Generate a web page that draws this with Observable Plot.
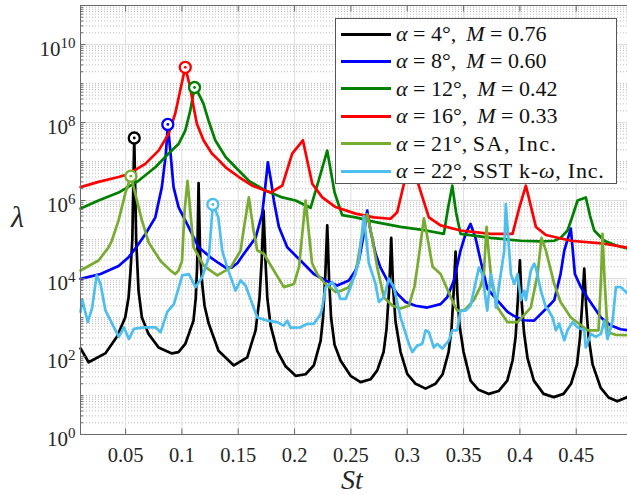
<!DOCTYPE html>
<html><head><meta charset="utf-8">
<script src="https://cdn.jsdelivr.net/npm/d3@7"></script>
<script src="https://cdn.jsdelivr.net/npm/@observablehq/plot@0.6"></script>
<style>
body{margin:0;background:#fff;}
#wrap{position:relative;width:627px;height:495px;font-family:"Liberation Serif","DejaVu Serif",serif;color:#262626;overflow:hidden;}
#wrap svg text{font-family:"Liberation Serif","DejaVu Serif",serif;}
#legend{position:absolute;left:335px;top:18px;width:282px;height:166px;background:#fff;border:1px solid #555;box-sizing:border-box;}
.row{position:absolute;left:5px;height:27px;display:flex;align-items:center;font-size:22px;white-space:nowrap;color:#111;font-family:"Liberation Serif","DejaVu Serif",serif;}
.sw{width:50px;height:3px;margin-right:5px;flex:none;}
#ylab{position:absolute;left:11px;top:202px;font-size:30px;line-height:30px;font-style:italic;font-family:"Liberation Serif","DejaVu Serif",serif;}
#xlab{position:absolute;left:341px;top:467px;font-size:28px;line-height:25px;font-style:italic;font-family:"Liberation Serif","DejaVu Serif",serif;}
</style></head>
<body><div id="wrap"></div>
<script>
// ---- data: [St, lambda] ----
const blackData = [[0.0101,160],[0.0172,71],[0.032,120],[0.0423,320],[0.0497,1000],[0.0527,3300],[0.0544,16000],[0.056,1e5],[0.0577,4e7],[0.0594,1e5],[0.0615,4900],[0.0645,1000],[0.0704,380],[0.0793,170],[0.0911,120],[0.097,130],[0.103,210],[0.1103,830],[0.1123,3200],[0.1135,2e4],[0.1148,2.8e6],[0.1162,4e4],[0.1179,7900],[0.1201,2000],[0.1237,710],[0.1325,140],[0.1461,59],[0.158,95],[0.1654,470],[0.1689,3200],[0.1709,3.2e4],[0.1725,5.5e5],[0.1741,3.2e4],[0.1758,3200],[0.1787,630],[0.1846,140],[0.192,56],[0.2009,32],[0.2098,35],[0.2171,59],[0.2231,250],[0.2253,1000],[0.2273,1.3e4],[0.229,2.3e5],[0.2306,1e4],[0.2324,1000],[0.2355,200],[0.2408,79],[0.2497,32],[0.2586,22],[0.2674,26],[0.2734,44],[0.279,130],[0.2816,500],[0.2841,6300],[0.2858,1.1e5],[0.2874,6300],[0.2896,790],[0.2941,130],[0.3,36],[0.3074,20],[0.3163,15],[0.3251,20],[0.3314,35],[0.3367,130],[0.3393,500],[0.3413,5000],[0.3429,4.9e4],[0.3445,4000],[0.3464,630],[0.35,130],[0.3562,24],[0.3633,14],[0.3725,11],[0.3811,13],[0.3888,24],[0.3935,79],[0.3962,320],[0.3983,3200],[0.4,2.9e4],[0.4016,2500],[0.4037,400],[0.4068,89],[0.4124,24],[0.421,11],[0.4301,9.1],[0.4387,11],[0.4454,20],[0.4507,63],[0.4534,320],[0.4554,2500],[0.4571,1.8e4],[0.4588,2000],[0.4609,320],[0.4645,63],[0.4716,16],[0.4787,8.9],[0.4864,7.1],[0.4955,9.1]];

const blueData = [[0.0101,9800],[0.0278,1.3e4],[0.0438,2.1e4],[0.0527,3.5e4],[0.0589,6e4],[0.0678,1.4e5],[0.0764,3.7e5],[0.0822,2.2e6],[0.0858,1.6e7],[0.0875,8.9e7],[0.0897,1.9e7],[0.0926,2.2e6],[0.097,6.8e5],[0.1059,2.1e5],[0.1148,6.3e4],[0.1254,3.5e4],[0.1325,2.5e4],[0.1388,1.9e4],[0.1441,1.9e4],[0.1494,2.5e4],[0.1547,4.2e4],[0.1592,6.3e4],[0.1654,1.1e5],[0.1713,4.6e5],[0.1738,2e6],[0.1763,9.5e6],[0.1791,3.2e6],[0.1816,1e6],[0.1861,2.1e5],[0.1935,6.3e4],[0.2068,2.6e4],[0.2171,1.3e4],[0.2275,8900],[0.2379,6600],[0.2482,8900],[0.2541,1.6e4],[0.2571,2.9e4],[0.2615,1.4e5],[0.2645,5.5e5],[0.2674,1.7e5],[0.2719,4.3e4],[0.2763,1.9e4],[0.2823,8900],[0.2911,4100],[0.2985,2500],[0.3074,2000],[0.3178,1800],[0.3296,2200],[0.3355,3300],[0.3414,8900],[0.3473,5.2e4],[0.3518,1.4e5],[0.3562,2.5e5],[0.3606,1.1e5],[0.3651,2.9e4],[0.371,5600],[0.3769,3500],[0.389,1400],[0.3946,1100],[0.4032,850],[0.4126,830],[0.4243,1800],[0.4305,2800],[0.4361,1.3e4],[0.4394,5.2e4],[0.4423,1e5],[0.4452,1.9e5],[0.4488,1.3e4],[0.4541,6000],[0.46,3200],[0.4719,1000],[0.4808,620],[0.4894,500],[0.4955,470]];

const greenData = [[0.0101,6.2e5],[0.026,1e6],[0.0438,1.6e6],[0.0615,3.2e6],[0.0764,7.1e6],[0.0882,1.6e7],[0.097,2.8e7],[0.103,6.2e7],[0.1074,2e8],[0.1112,7.9e8],[0.1148,5.5e8],[0.1192,3e8],[0.1237,1.1e8],[0.1296,3.5e7],[0.1388,1.3e7],[0.1476,7.1e6],[0.1594,3.2e6],[0.1743,1.8e6],[0.1891,1.2e6],[0.2009,1e6],[0.2142,6.5e5],[0.2213,3.2e6],[0.229,1.9e7],[0.2355,1.6e6],[0.2423,4.2e5],[0.2541,3.7e5],[0.2719,2.8e5],[0.2941,2.1e5],[0.3118,1.8e5],[0.3325,1.4e5],[0.3362,6.3e5],[0.34,2.4e6],[0.3433,5e5],[0.3473,1.4e5],[0.374,1.1e5],[0.4006,9.3e4],[0.4183,8.9e4],[0.4305,9.3e4],[0.4361,1.1e5],[0.4423,1.7e5],[0.4467,4e5],[0.4512,1e6],[0.4585,1.2e6],[0.4623,4e5],[0.466,1.7e5],[0.4749,9.3e4],[0.4849,7.1e4],[0.4955,5.9e4]];

const redData = [[0.0101,2.2e6],[0.026,3e6],[0.0438,4e6],[0.0527,4.8e6],[0.0675,8.7e6],[0.0793,1.9e7],[0.0882,5.1e7],[0.0941,1.7e8],[0.0985,6.6e8],[0.103,2.6e9],[0.1074,7.9e8],[0.1104,2.5e8],[0.1133,9.3e7],[0.1192,3.5e7],[0.1266,1.6e7],[0.1325,1.1e7],[0.1388,7.1e6],[0.1506,4e6],[0.1624,2.4e6],[0.1787,1.6e6],[0.1891,2.4e6],[0.1979,1.6e7],[0.2074,3.5e7],[0.2157,2.7e6],[0.2246,1.2e6],[0.2364,6.8e5],[0.2541,4.6e5],[0.2704,3.7e5],[0.2852,3.4e5],[0.2911,5e5],[0.2985,4e6],[0.3038,1.6e7],[0.3089,3.2e6],[0.3192,3.7e5],[0.3296,2.3e5],[0.3473,1.7e5],[0.374,1.4e5],[0.3935,1.4e5],[0.3993,6.3e5],[0.4053,2.4e6],[0.4142,2.1e5],[0.4231,1.3e5],[0.4452,9.3e4],[0.4749,7.8e4],[0.4955,6.2e4]];

const saData = [[0.0101,1.6e4],[0.026,2.9e4],[0.0349,6.3e4],[0.0378,9.3e4],[0.0438,3.1e5],[0.0497,1.5e6],[0.0547,4.2e6],[0.0586,1.5e6],[0.0645,3.1e5],[0.0704,8.5e4],[0.0811,2.8e4],[0.0899,1.6e4],[0.0941,1.3e4],[0.097,1.6e4],[0.1001,2.8e4],[0.1024,5.5e5],[0.105,3.2e6],[0.1074,5.5e5],[0.1104,6.3e4],[0.1195,2.1e4],[0.1314,1.2e4],[0.1432,1.9e4],[0.1521,5.2e4],[0.1547,1.7e5],[0.1594,1.2e6],[0.1636,1.7e5],[0.1669,5.2e4],[0.1727,4.3e4],[0.1816,1.6e4],[0.1905,6000],[0.1994,7200],[0.204,2e4],[0.2067,1.3e5],[0.2098,1e6],[0.2129,1.3e5],[0.2155,2.5e4],[0.2201,1.3e4],[0.2275,7200],[0.2364,4500],[0.2408,4800],[0.2482,6000],[0.2541,1.3e4],[0.2586,7.9e4],[0.2645,4.5e5],[0.2689,1.1e5],[0.2734,1.9e4],[0.2793,3300],[0.287,2000],[0.2941,1700],[0.3014,2000],[0.3065,6300],[0.31,3.2e4],[0.3148,3.5e5],[0.3189,7.9e4],[0.3225,2e4],[0.3296,1.3e4],[0.3414,2200],[0.3444,1500],[0.3503,1500],[0.3591,2800],[0.3651,6300],[0.368,1.3e4],[0.3704,2.1e5],[0.3722,5e4],[0.3749,7900],[0.3802,1800],[0.389,760],[0.398,760],[0.4097,1800],[0.4157,1.3e4],[0.4192,1.1e5],[0.4231,5.2e4],[0.4305,7200],[0.4361,2500],[0.4452,1000],[0.46,470],[0.4698,470],[0.472,1e4],[0.4733,1.4e5],[0.4751,1e4],[0.4778,420],[0.4849,360],[0.4955,350]];

const sstData = [[0.0101,1400],[0.0116,2800],[0.0165,760],[0.0204,1800],[0.0243,1.2e4],[0.0278,7200],[0.0322,1500],[0.0367,830],[0.044,320],[0.0485,560],[0.0529,280],[0.0574,510],[0.0662,560],[0.0766,560],[0.0811,420],[0.087,1400],[0.0929,2200],[0.0973,6000],[0.1003,1.2e4],[0.1062,1.3e4],[0.1121,6000],[0.1181,1.1e4],[0.1239,3.5e4],[0.1275,7.9e5],[0.1323,3.7e5],[0.1358,5.2e4],[0.1403,1.9e4],[0.1476,4900],[0.1521,8900],[0.1565,6600],[0.1669,1000],[0.1758,830],[0.1846,760],[0.1905,620],[0.1935,830],[0.1964,550],[0.2053,560],[0.2113,690],[0.2171,690],[0.2231,1200],[0.2246,1800],[0.2275,6000],[0.2334,8100],[0.2379,4900],[0.2408,3000],[0.2453,3000],[0.2497,6000],[0.2556,1.9e4],[0.2571,2.9e4],[0.2615,4e5],[0.2659,2.5e4],[0.2719,7200],[0.2748,2500],[0.2793,3300],[0.2837,1e4],[0.2881,6000],[0.2941,1000],[0.3015,210],[0.3045,130],[0.3089,190],[0.3133,210],[0.3163,470],[0.3192,420],[0.3236,170],[0.3266,210],[0.3311,160],[0.337,260],[0.34,470],[0.3444,470],[0.3473,1500],[0.3518,1500],[0.3562,2000],[0.3636,1.9e4],[0.3666,1.3e4],[0.371,1500],[0.3742,1.3e4],[0.3772,4900],[0.3787,1800],[0.3817,7200],[0.3861,5.2e4],[0.3875,8.1e5],[0.3905,5.2e4],[0.392,1.3e4],[0.395,7200],[0.398,1.3e4],[0.4009,2800],[0.4039,4900],[0.4053,2800],[0.4097,1.6e4],[0.4127,2.4e4],[0.4142,1.9e4],[0.4186,4900],[0.4231,1800],[0.4245,1700],[0.429,1000],[0.4319,470],[0.4349,690],[0.4394,260],[0.4423,470],[0.4467,760],[0.4512,560],[0.4571,470],[0.4585,170],[0.463,380],[0.4674,320],[0.4719,380],[0.4749,830],[0.4778,280],[0.4823,830],[0.4852,6000],[0.4896,6000],[0.4955,4100]];

const seriesColors = ["#000000","#0000FF","#008000","#FF0000","#77AC30","#4DBEEE"];
const legendLabels = [
  "<i>α</i> = 4°,&thinsp; <i>M</i> = 0.76",
  "<i>α</i> = 8°,&thinsp; <i>M</i> = 0.60",
  "<i>α</i> = 12°,&thinsp; <i>M</i> = 0.42",
  "<i>α</i> = 16°,&thinsp; <i>M</i> = 0.33",
  "<i>α</i> = 21°, <span style='letter-spacing:1.5px'>SA, Inc.</span>",
  "<i>α</i> = 22°, <span style='letter-spacing:0.8px'>SST k-<i>ω</i>, Inc.</span>"
];
const peakSt = [0.0577,0.0875,0.1112,0.103,0.0547,0.1275];
const peakLambda = [4e7,8.9e7,7.9e8,2.6e9,4.2e6,7.9e5];

const xTicks = [0.05,0.1,0.15,0.2,0.25,0.3,0.35,0.4,0.45];
const xTickLabels = ["0.05","0.1","0.15","0.2","0.25","0.3","0.35","0.4","0.45"];
const yMajor = [1,1e2,1e4,1e6,1e8,1e10];
const yMajorExp = ["0","2","4","6","8","10"];

// minor log ticks (2..9 x 10^k and odd decades)
const yMinor = [];
for (let k = 0; k <= 10; k++) {
  for (let m = 2; m <= 9; m++) yMinor.push(m * Math.pow(10, k));
  if (k % 2 === 1) yMinor.push(Math.pow(10, k));
}

const allSeries = [blackData, blueData, greenData, redData, saData, sstData];
const peaks = peakSt.map((s, i) => ({st: s, lam: peakLambda[i], c: seriesColors[i]}));
const axisColor = "#6a6a6a";
const serif = "'Liberation Serif', 'DejaVu Serif', serif";

const plot = Plot.plot({
  width: 627, height: 495,
  marginLeft: 80, marginRight: 0, marginTop: 5, marginBottom: 61,
  style: {fontFamily: serif, fontSize: "20px", color: "#262626", background: "transparent"},
  x: {domain: [0.01, 0.4955], label: null},
  y: {type: "log", domain: [1, 1e11], label: null},
  marks: [
    Plot.ruleY(yMinor, {stroke: "#a8a8a8", strokeWidth: 0.8, strokeDasharray: "1,2"}),
    Plot.ruleY(yMajor, {stroke: "#dedede", strokeWidth: 1}),
    Plot.ruleX(xTicks, {stroke: "#dedede", strokeWidth: 1}),
    ...allSeries.map((d, i) => Plot.line(d, {stroke: seriesColors[i], strokeWidth: 2.7, strokeLinejoin: "round"})),
    Plot.dot(peaks, {x: "st", y: "lam", r: 5.5, stroke: "c", fill: "white", strokeWidth: 2.3}),
    Plot.dot(peaks, {x: "st", y: "lam", r: 1.4, fill: "c"}),
    Plot.ruleX([0.01], {stroke: axisColor}),
    Plot.ruleY([1, 1e11], {stroke: axisColor}),
    Plot.axisY(yMinor, {tickSize: -3, tickFormat: () => "", stroke: axisColor}),
    Plot.axisY(yMajor, {tickSize: -5.5, tickFormat: () => "", stroke: axisColor}),
    Plot.axisY(yMajor, {tickSize: 0, tickPadding: 5, dy: 5, fontSize: 21, fontFamily: serif, tickFormat: d => "10^" + yMajorExp[yMajor.indexOf(d)]}),
    Plot.axisX(xTicks, {tickSize: -5.5, tickFormat: () => "", stroke: axisColor}),
    Plot.axisX(xTicks, {anchor: "top", tickSize: -5.5, tickFormat: () => "", stroke: axisColor}),
    Plot.axisX(xTicks, {tickSize: 0, tickPadding: 13, fontSize: 20.5, fontFamily: serif, tickFormat: d => xTickLabels[xTicks.indexOf(d)]})
  ]
});

// superscripts for y tick labels
d3.select(plot).selectAll("text").each(function () {
  const m = /^10\^(\d+)$/.exec(this.textContent);
  if (m) {
    const s = d3.select(this);
    s.text(null);
    s.append("tspan").text("10");
    s.append("tspan").attr("dy", "-8").attr("font-size", "15").text(m[1]);
  }
});

const wrap = document.getElementById("wrap");
wrap.appendChild(plot);

const legend = document.createElement("div");
legend.id = "legend";
legendLabels.forEach((lab, i) => {
  const row = document.createElement("div");
  row.className = "row";
  row.style.top = (1.5 + i * 27.4) + "px";
  row.innerHTML = `<span class="sw" style="background:${seriesColors[i]}"></span><span>${lab}</span>`;
  legend.appendChild(row);
});
wrap.appendChild(legend);

const yl = document.createElement("div"); yl.id = "ylab"; yl.textContent = "λ"; wrap.appendChild(yl);
const xl = document.createElement("div"); xl.id = "xlab"; xl.textContent = "St"; wrap.appendChild(xl);
</script>
</body></html>
